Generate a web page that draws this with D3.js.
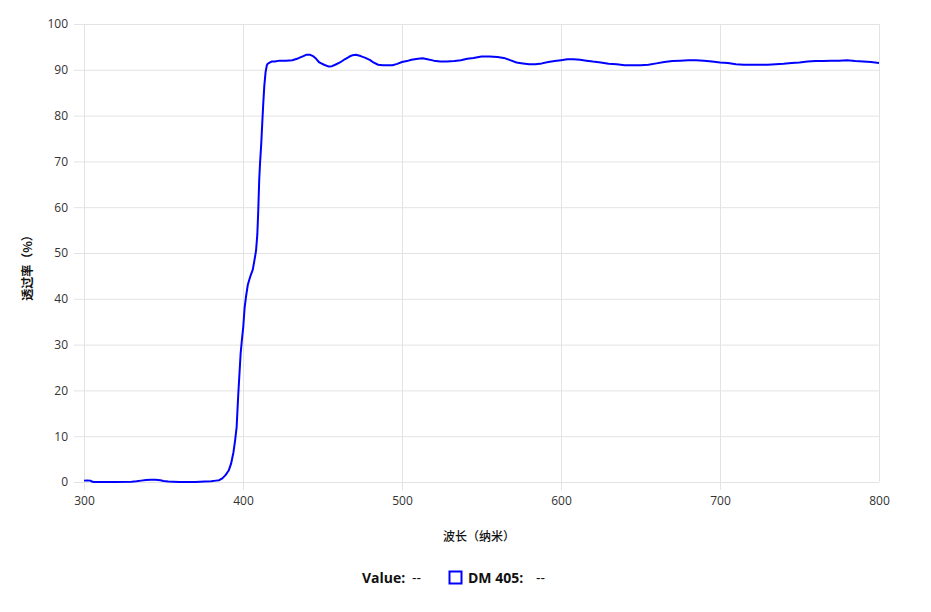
<!DOCTYPE html>
<html>
<head>
<meta charset="utf-8">
<script src="https://cdn.jsdelivr.net/npm/d3@7"></script>
<style>
  html, body { margin: 0; padding: 0; background: #fff; }
  svg { display: block; }
</style>
</head>
<body>
<svg id="chart" width="931" height="612"></svg>
<script>
// ---- data ----
const wavelengths = [300,302,304,305,306,310,320,330,333,336,339,342,345,348,350,353,356,360,370,373,376,380,383,385,387,389,391,392.5,394,395,396,397,398,398.5,399.3,400.2,401,401.9,403,404,405,406.1,407,408.2,409,409.6,410.2,410.7,411.5,412.2,412.8,413.4,414.2,415,415.5,417,418,420,423,427,431,434,436,438,440,442,444,446,448,451,454,456,458,461,464,467,469,471,474,477,480,482,485,488,491,494,497,500,503,506,510,513,516,520,524,528,533,537,541,545,550,555,560,564,568,572,576,580,584,588,592,596,600,604,608,612,616,620,625,630,635,640,645,650,655,660,665,670,675,680,685,690,695,700,705,710,715,720,725,730,735,740,745,750,755,760,765,770,775,780,785,790,795,800];
const transmission = [0.3,0.35,0.3,0.1,0,0,0,0.05,0.15,0.3,0.45,0.5,0.5,0.4,0.2,0.1,0.05,0,0,0.05,0.1,0.15,0.3,0.4,0.8,1.5,2.5,4.0,6.5,9,12,19,25,28,31,34,38,40.5,43,44.2,45.3,46.3,48,50.5,54,59.3,66,69.5,74,79,83,86.5,89.5,91,91.3,91.6,91.8,91.8,92.0,92.0,92.1,92.4,92.7,93.0,93.3,93.3,93.0,92.4,91.6,91.1,90.7,90.8,91.1,91.6,92.3,92.9,93.2,93.3,93.0,92.6,92.1,91.6,91.1,91.0,91.0,91.0,91.3,91.7,91.9,92.2,92.4,92.5,92.3,92.0,91.8,91.8,91.9,92.1,92.4,92.6,92.9,92.9,92.8,92.6,92.1,91.6,91.4,91.2,91.2,91.4,91.7,91.9,92.1,92.3,92.3,92.2,92.0,91.8,91.6,91.3,91.2,91.0,91.0,91.0,91.1,91.4,91.7,91.9,92.0,92.1,92.1,92.0,91.8,91.6,91.5,91.2,91.1,91.1,91.1,91.1,91.2,91.3,91.5,91.6,91.8,91.9,91.9,92.0,92.0,92.1,91.9,91.8,91.7,91.5];
const xTicks = [300,400,500,600,700,800];
const yTicks = [0,10,20,30,40,50,60,70,80,90,100];
const seriesName = "DM 405";
const xTitle = "波长（纳米）";
const yTitle = "透过率（%）";

// ---- layout ----
const svg = d3.select("#chart");
const plotL = 84, plotR = 879, plotT = 24, plotB = 482;
const x = d3.scaleLinear().domain([300, 800]).range([plotL, plotR]);
const y = d3.scaleLinear().domain([0, 100]).range([plotB, plotT]);
const gridColor = "#e3e3e3";
const numFont = "'Open Sans', 'Noto Sans', sans-serif";
const cjkFont = "'Noto Sans CJK SC', sans-serif";

// horizontal grid (via axis)
const yAxis = d3.axisLeft(y).tickValues(yTicks).tickSize(-(plotR - plotL)).tickPadding(16).tickFormat(d3.format("d"));
const gy = svg.append("g").attr("transform", `translate(${plotL},0)`).call(yAxis);
gy.select(".domain").remove();
gy.selectAll(".tick line").attr("stroke", gridColor).attr("x1", -10);
gy.selectAll(".tick text").attr("fill", "#333").style("font-family", numFont).style("font-size", "12px");

// vertical grid
const xAxis = d3.axisBottom(x).tickValues(xTicks).tickSize(-(plotB - plotT)).tickPadding(14).tickFormat(d3.format("d"));
const gx = svg.append("g").attr("transform", `translate(0,${plotB})`).call(xAxis);
gx.select(".domain").remove();
gx.selectAll(".tick line").attr("stroke", gridColor).attr("y1", (d) => d === 800 ? 0 : 8);
gx.selectAll(".tick text").attr("fill", "#333").style("font-family", numFont).style("font-size", "12px");

// line
const data = wavelengths.map((w, i) => ({ w, t: transmission[i] }));
const line = d3.line().x(d => x(d.w)).y(d => y(d.t));
svg.append("path").datum(data)
  .attr("d", line).attr("fill", "none")
  .attr("stroke", "#0000ff").attr("stroke-width", 2).attr("stroke-linejoin", "round");

// axis titles
svg.append("text").attr("x", 479).attr("y", 541).attr("text-anchor", "middle")
  .style("font-family", cjkFont).style("font-size", "12px").style("font-weight", 500).attr("fill", "#111")
  .text(xTitle);
svg.append("text").attr("transform", "translate(32,265) rotate(-90)").attr("text-anchor", "middle")
  .style("font-family", cjkFont).style("font-size", "12px").style("font-weight", 700).attr("fill", "#111")
  .text(yTitle);

// legend
const lg = svg.append("g").style("font-family", numFont).style("font-size", "14px");
lg.append("text").attr("x", 362).attr("y", 583).attr("font-weight", "bold").attr("fill", "#111").text("Value:");
lg.append("text").attr("x", 412).attr("y", 583).attr("fill", "#111").text("--");
lg.append("rect").attr("x", 449.5).attr("y", 571.5).attr("width", 12).attr("height", 12)
  .attr("fill", "none").attr("stroke", "#0000ff").attr("stroke-width", 2);
lg.append("text").attr("x", 468).attr("y", 583).attr("font-weight", "bold").attr("fill", "#111").text(seriesName + ":");
lg.append("text").attr("x", 536).attr("y", 583).attr("fill", "#111").text("--");
</script>
</body>
</html>
